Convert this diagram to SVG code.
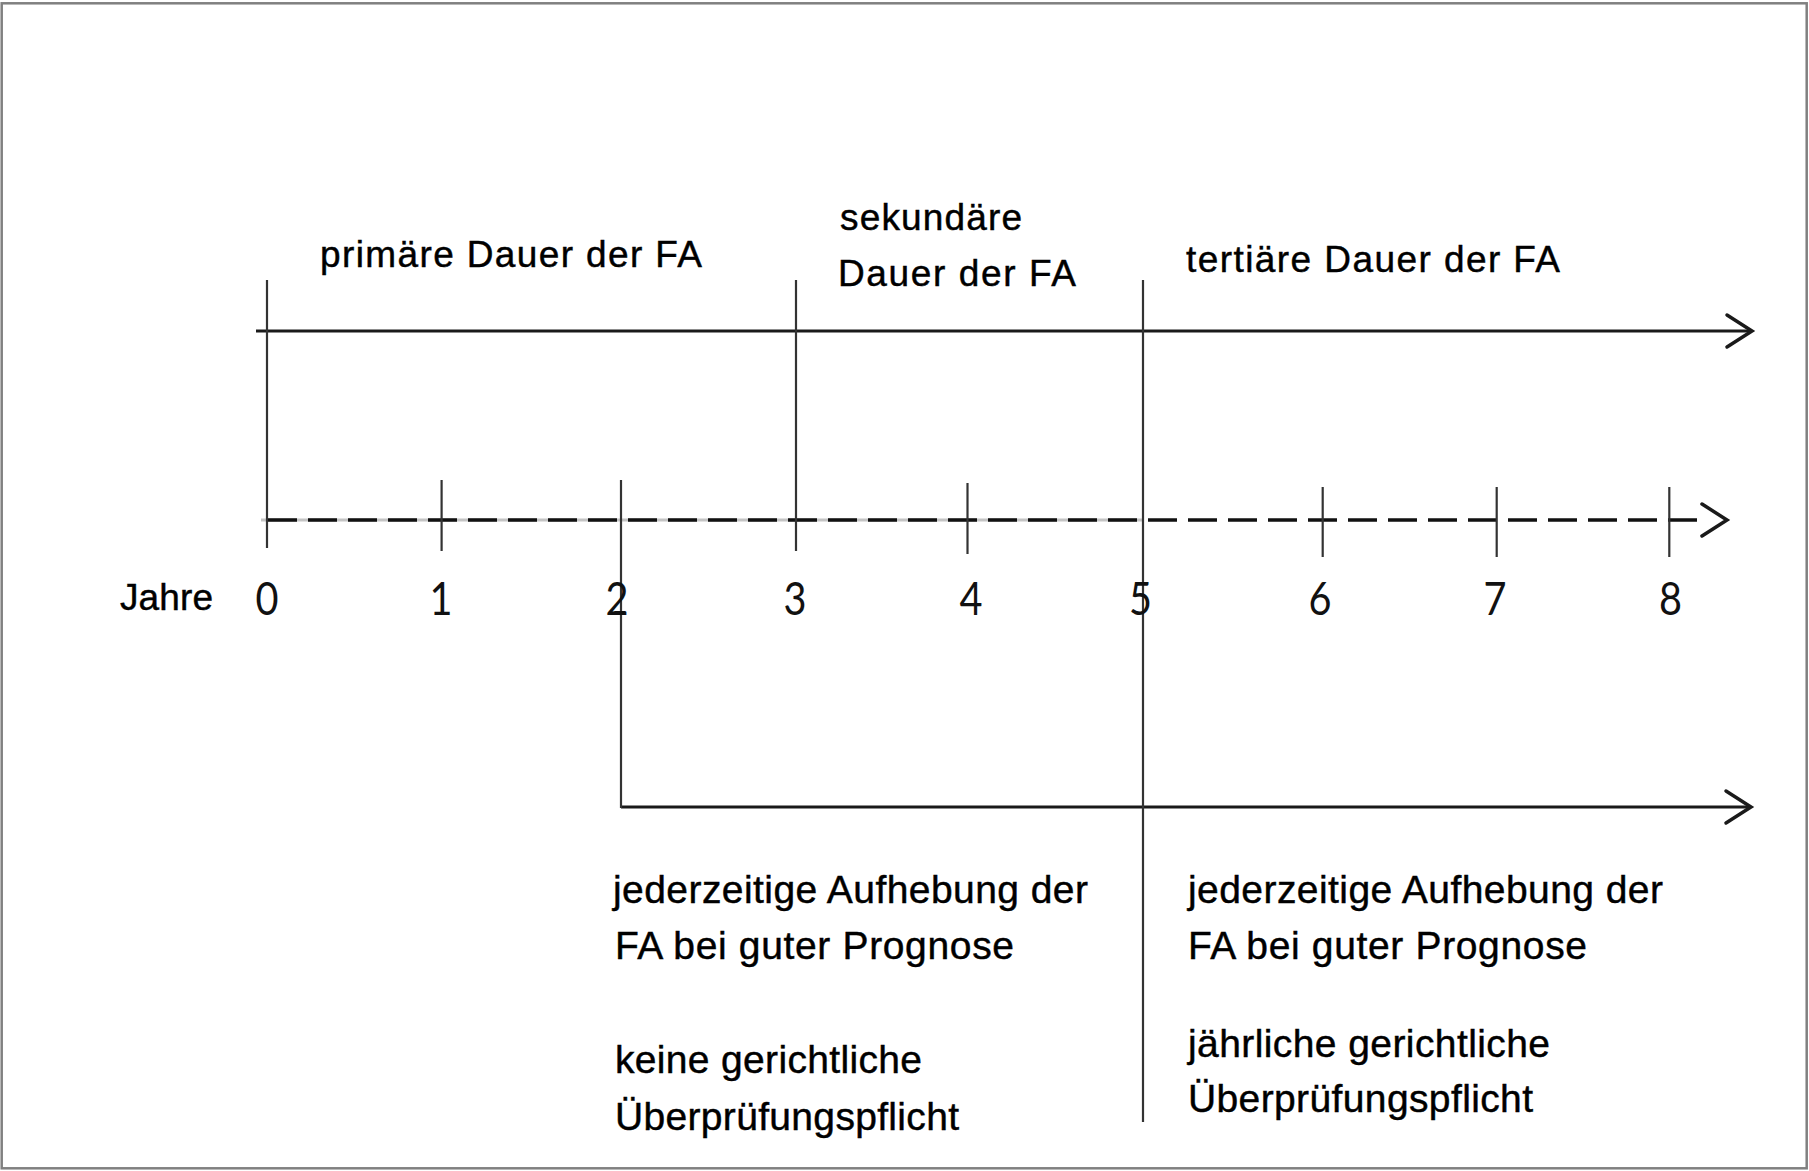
<svg xmlns="http://www.w3.org/2000/svg" width="1809" height="1171" viewBox="0 0 1809 1171">
  <style>
    .lbl { font-family: "Liberation Sans", Arial, sans-serif; fill: #000; stroke: #000; stroke-width: 0.45; }
    .top { font-size: 37px; }
    .txt { font-size: 39px; }
    .yr  { font-family: Lato, "Liberation Sans", sans-serif; font-size: 47px; fill: #111; text-anchor: middle; }
    .axis { stroke: #1a1a1a; stroke-width: 3; fill: none; stroke-linecap: butt; }
    .mark { stroke: #333; stroke-width: 2.2; fill: none; }
    .head { stroke: #1a1a1a; stroke-width: 3.5; fill: none; stroke-linecap: round; stroke-linejoin: miter; }
    .dash { stroke: #111; stroke-width: 3.5; stroke-dasharray: 29 11; stroke-dashoffset: 33; fill: none; }
  </style>

  <rect x="0" y="0" width="1809" height="1171" fill="#fff"/>
  <!-- outer frame -->
  <rect x="1.7" y="3.3" width="1805" height="1165" fill="none" stroke="#808080" stroke-width="2.5"/>

  <g id="connectors">
    <!-- duration axis (top) -->
    <line class="axis" x1="256" y1="331" x2="1751" y2="331"/>
    <polyline class="head" points="1727,315 1752,331 1727,347"/>

    <!-- year axis (dashed) with faint underlay up to year 5 -->
    <line x1="261" y1="520" x2="1143" y2="520" stroke="#c4c4c4" stroke-width="3"/>
    <line class="dash" x1="261" y1="520" x2="1700" y2="520"/>
    <polyline class="head" points="1702,504 1727,520 1702,536"/>

    <!-- review axis (bottom) -->
    <line class="axis" x1="621" y1="807" x2="1750" y2="807"/>
    <polyline class="head" points="1726,791 1751,807 1726,823"/>

    <!-- period boundaries -->
    <line class="mark" x1="267" y1="280" x2="267" y2="548"/>
    <line class="mark" x1="796" y1="280" x2="796" y2="551"/>
    <line class="mark" x1="1143" y1="280" x2="1143" y2="1122"/>
    <line class="mark" x1="621" y1="480" x2="621" y2="808"/>

    <!-- year ticks -->
    <line class="mark" x1="441.6" y1="480" x2="441.6" y2="551"/>
    <line class="mark" x1="967.5" y1="483" x2="967.5" y2="554"/>
    <line class="mark" x1="1322.7" y1="487" x2="1322.7" y2="557"/>
    <line class="mark" x1="1496.7" y1="487" x2="1496.7" y2="557"/>
    <line class="mark" x1="1669.3" y1="487" x2="1669.3" y2="557"/>
  </g>

  <g id="label-primaer">
    <text class="lbl top" x="320" y="266.5" textLength="382" lengthAdjust="spacing">primäre Dauer der FA</text>
  </g>
  <g id="label-sekundaer">
    <text class="lbl top" x="840" y="229.5" textLength="182" lengthAdjust="spacing">sekundäre</text>
    <text class="lbl top" x="838" y="286" textLength="238" lengthAdjust="spacing">Dauer der FA</text>
  </g>
  <g id="label-tertiaer">
    <text class="lbl top" x="1186" y="271.5" textLength="374" lengthAdjust="spacing">tertiäre Dauer der FA</text>
  </g>

  <g id="label-jahre">
    <text class="lbl" x="120" y="610" font-size="37" textLength="93" lengthAdjust="spacing">Jahre</text>
  </g>

  <g id="years">
    <text class="yr" x="267" y="615" textLength="23" lengthAdjust="spacingAndGlyphs">0</text>
    <text class="yr" x="441" y="615" textLength="23" lengthAdjust="spacingAndGlyphs">1</text>
    <text class="yr" x="617" y="615" textLength="23" lengthAdjust="spacingAndGlyphs">2</text>
    <text class="yr" x="795" y="615" textLength="23" lengthAdjust="spacingAndGlyphs">3</text>
    <text class="yr" x="971" y="615" textLength="23" lengthAdjust="spacingAndGlyphs">4</text>
    <text class="yr" x="1140.5" y="615" textLength="23" lengthAdjust="spacingAndGlyphs">5</text>
    <text class="yr" x="1320" y="615" textLength="23" lengthAdjust="spacingAndGlyphs">6</text>
    <text class="yr" x="1495" y="615" textLength="23" lengthAdjust="spacingAndGlyphs">7</text>
    <text class="yr" x="1670.5" y="615" textLength="23" lengthAdjust="spacingAndGlyphs">8</text>
  </g>

  <g id="note-sekundaer">
    <text class="lbl txt" x="613" y="903" textLength="475" lengthAdjust="spacing">jederzeitige Aufhebung der</text>
    <text class="lbl txt" x="615" y="959" textLength="399" lengthAdjust="spacing">FA bei guter Prognose</text>
    <text class="lbl txt" x="615" y="1073" textLength="307" lengthAdjust="spacing">keine gerichtliche</text>
    <text class="lbl txt" x="615" y="1130" textLength="344" lengthAdjust="spacing">Überprüfungspflicht</text>
  </g>

  <g id="note-tertiaer">
    <text class="lbl txt" x="1188" y="903" textLength="475" lengthAdjust="spacing">jederzeitige Aufhebung der</text>
    <text class="lbl txt" x="1188" y="959" textLength="399" lengthAdjust="spacing">FA bei guter Prognose</text>
    <text class="lbl txt" x="1188" y="1056.5" textLength="362" lengthAdjust="spacing">jährliche gerichtliche</text>
    <text class="lbl txt" x="1188" y="1111.5" textLength="345" lengthAdjust="spacing">Überprüfungspflicht</text>
  </g>
</svg>
